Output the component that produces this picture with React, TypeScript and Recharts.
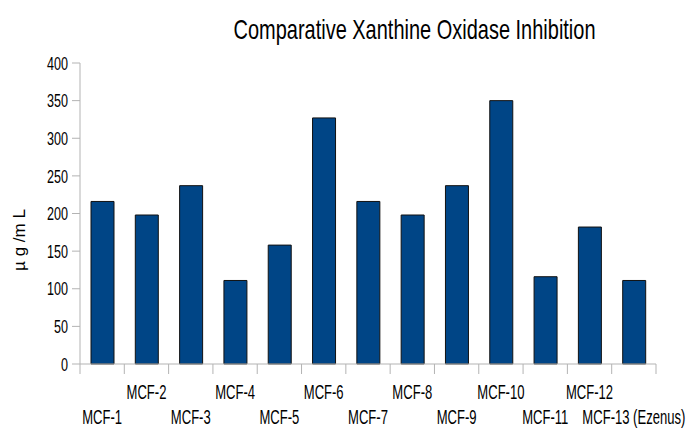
import { BarChart, Bar, XAxis, YAxis } from 'recharts';

const categories = [
  'MCF-1', 'MCF-2', 'MCF-3', 'MCF-4', 'MCF-5', 'MCF-6', 'MCF-7',
  'MCF-8', 'MCF-9', 'MCF-10', 'MCF-11', 'MCF-12', 'MCF-13 (Ezenus)'
];
const inhibition = [216, 198, 237, 111, 158, 327, 216, 198, 237, 350, 116, 182, 111];
const yTicks = [0, 50, 100, 150, 200, 250, 300, 350, 400];

const data = categories.map((name, i) => ({ name, value: inhibition[i] }));

const W = 687;
const H = 428;
const PLOT_LEFT = 80;
const PLOT_RIGHT = 656;
const BAND = (PLOT_RIGHT - PLOT_LEFT) / categories.length;
const FONT = '"Liberation Sans", Arial, sans-serif';
const AXIS = '#b3b3b3';

function YTick({ x, y, payload }: any) {
  return (
    <text
      transform={`translate(${x},${y}) scale(0.68,1)`}
      textAnchor="end"
      dy="0.36em"
      fontFamily={FONT}
      fontSize={18.5}
      fill="#000"
    >
      {payload.value}
    </text>
  );
}

function XTick({ x, y, payload, index }: any) {
  const left = x - BAND / 2;
  const isLast = index === categories.length - 1;
  const labelY = index % 2 === 0 ? y + 60 : y + 35;
  return (
    <g>
      <line x1={left} x2={left} y1={y} y2={y + 10} stroke={AXIS} />
      {isLast && <line x1={x + BAND / 2} x2={x + BAND / 2} y1={y} y2={y + 10} stroke={AXIS} />}
      <text
        transform={`translate(${x},${labelY}) scale(0.67,1)`}
        textAnchor="middle"
        fontFamily={FONT}
        fontSize={19.5}
        fill="#000"
      >
        {payload.value}
      </text>
    </g>
  );
}

export default function App() {
  return (
    <div style={{ position: 'absolute', left: 0, top: 0, width: W, height: H, background: '#fff' }}>
      <BarChart width={W} height={H} data={data} margin={{ top: 63, right: 31, bottom: 0, left: 0 }}>
        <XAxis
          dataKey="name"
          height={64}
          tickLine={false}
          tickSize={0}
          tickMargin={0}
          axisLine={{ stroke: AXIS }}
          interval={0}
          tick={<XTick />}
        />
        <YAxis
          width={80}
          domain={[0, 400]}
          ticks={yTicks}
          tickSize={8}
          tickMargin={4}
          axisLine={{ stroke: AXIS }}
          tickLine={{ stroke: AXIS }}
          tick={<YTick />}
          interval={0}
        />
        <YAxis
          yAxisId="r"
          orientation="right"
          width={0}
          domain={[0, 400]}
          tick={false}
          tickLine={false}
          axisLine={{ stroke: AXIS }}
        />
        <Bar dataKey="value" fill="#004586" stroke="#111" strokeWidth={1} barSize={23} isAnimationActive={false} />
      </BarChart>
      <svg width={W} height={H} style={{ position: 'absolute', left: 0, top: 0, pointerEvents: 'none' }}>
        <text
          transform="translate(414.5,39) scale(0.74,1)"
          textAnchor="middle"
          fontFamily={FONT}
          fontSize={27}
          fill="#000"
        >
          Comparative Xanthine Oxidase Inhibition
        </text>
        <text
          transform="translate(25,240) rotate(-90)"
          textAnchor="middle"
          fontFamily={FONT}
          fontSize={17}
          fill="#000"
        >
          µ g /m L
        </text>
      </svg>
    </div>
  );
}
